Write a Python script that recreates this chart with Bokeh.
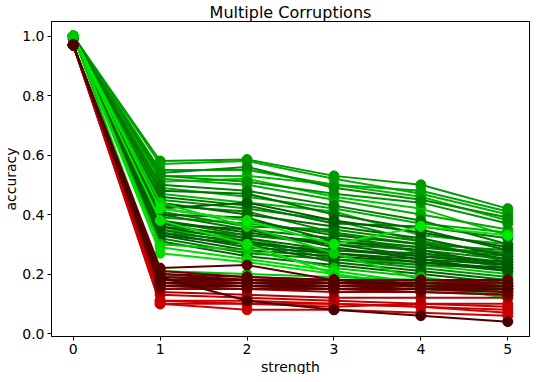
from bokeh.plotting import figure
from bokeh.models import Range1d, FixedTicker, NumeralTickFormatter, Title
from bokeh.embed import file_html
from bokeh.resources import INLINE

strength = [0, 1, 2, 3, 4, 5]

green_series = [
    [1.00, 0.58, 0.585, 0.53, 0.50, 0.42],
    [1.00, 0.57, 0.58, 0.52, 0.47, 0.40],
    [1.00, 0.55, 0.55, 0.50, 0.48, 0.41],
    [1.00, 0.54, 0.56, 0.49, 0.45, 0.39],
    [1.00, 0.53, 0.53, 0.50, 0.46, 0.38],
    [1.00, 0.53, 0.51, 0.47, 0.44, 0.37],
    [1.00, 0.52, 0.50, 0.45, 0.40, 0.35],
    [1.00, 0.51, 0.52, 0.46, 0.42, 0.33],
    [1.00, 0.50, 0.48, 0.43, 0.38, 0.30],
    [1.00, 0.49, 0.46, 0.42, 0.37, 0.34],
    [1.00, 0.48, 0.47, 0.40, 0.35, 0.28],
    [1.00, 0.47, 0.44, 0.41, 0.33, 0.30],
    [0.99, 0.46, 0.43, 0.37, 0.36, 0.32],
    [1.00, 0.45, 0.42, 0.38, 0.31, 0.27],
    [1.00, 0.44, 0.40, 0.36, 0.32, 0.26],
    [1.00, 0.43, 0.41, 0.34, 0.30, 0.28],
    [1.00, 0.42, 0.44, 0.38, 0.34, 0.29],
    [1.00, 0.42, 0.38, 0.33, 0.30, 0.25],
    [0.99, 0.41, 0.36, 0.35, 0.31, 0.24],
    [1.00, 0.40, 0.39, 0.31, 0.28, 0.23],
    [1.00, 0.40, 0.35, 0.32, 0.29, 0.26],
    [1.00, 0.39, 0.37, 0.34, 0.27, 0.22],
    [1.00, 0.38, 0.34, 0.30, 0.26, 0.24],
    [1.00, 0.38, 0.33, 0.31, 0.29, 0.27],
    [1.00, 0.37, 0.35, 0.29, 0.25, 0.21],
    [1.00, 0.37, 0.32, 0.28, 0.26, 0.23],
    [1.00, 0.36, 0.33, 0.30, 0.28, 0.25],
    [1.00, 0.36, 0.31, 0.27, 0.24, 0.22],
    [1.00, 0.35, 0.30, 0.28, 0.27, 0.24],
    [1.00, 0.35, 0.32, 0.26, 0.23, 0.20],
    [1.00, 0.34, 0.29, 0.27, 0.25, 0.23],
    [1.00, 0.34, 0.31, 0.25, 0.22, 0.19],
    [1.00, 0.33, 0.28, 0.26, 0.24, 0.21],
    [1.00, 0.33, 0.30, 0.24, 0.21, 0.18],
    [1.00, 0.32, 0.27, 0.25, 0.23, 0.22],
    [1.00, 0.31, 0.26, 0.23, 0.20, 0.17],
    [1.00, 0.30, 0.28, 0.22, 0.19, 0.15],
    [1.00, 0.29, 0.25, 0.21, 0.17, 0.14],
    [1.00, 0.27, 0.24, 0.20, 0.16, 0.12],
    [1.00, 0.38, 0.30, 0.20, 0.15, 0.13],
    [1.00, 0.44, 0.36, 0.27, 0.18, 0.16],
    [1.00, 0.42, 0.38, 0.30, 0.36, 0.33],
    [1.00, 0.21, 0.20, 0.19, 0.18, 0.16],
]

green_colors = [
    "#009a00", "#00b000", "#00a400", "#008c00", "#00b800", "#009000",
    "#00a800", "#00c400", "#007c00", "#00ac00", "#007000", "#00b400",
    "#007400", "#009400", "#006800", "#008400", "#005c00", "#006c00",
    "#008800", "#006400", "#007800", "#00a000", "#006000", "#007c00",
    "#005e00", "#006a00", "#008600", "#005a00", "#007000", "#00c800",
    "#006400", "#009000", "#005e00", "#006800", "#007e00", "#006200",
    "#00c000", "#00d800", "#00e000", "#00e400", "#00d000", "#00e800",
    "#00c800",
]

red_series = [
    [0.97, 0.22, 0.23, 0.18, 0.16, 0.15],
    [0.97, 0.21, 0.19, 0.18, 0.18, 0.17],
    [0.97, 0.20, 0.19, 0.18, 0.18, 0.18],
    [0.97, 0.20, 0.18, 0.17, 0.17, 0.17],
    [0.97, 0.19, 0.18, 0.17, 0.17, 0.16],
    [0.97, 0.19, 0.18, 0.18, 0.17, 0.16],
    [0.97, 0.18, 0.17, 0.17, 0.16, 0.16],
    [0.97, 0.18, 0.17, 0.16, 0.16, 0.15],
    [0.97, 0.18, 0.18, 0.17, 0.16, 0.16],
    [0.97, 0.17, 0.17, 0.16, 0.16, 0.15],
    [0.97, 0.17, 0.16, 0.16, 0.15, 0.15],
    [0.97, 0.17, 0.16, 0.15, 0.15, 0.14],
    [0.97, 0.16, 0.16, 0.15, 0.15, 0.14],
    [0.97, 0.16, 0.15, 0.15, 0.14, 0.13],
    [0.97, 0.19, 0.11, 0.08, 0.06, 0.04],
    [0.97, 0.15, 0.15, 0.14, 0.14, 0.13],
    [0.97, 0.14, 0.13, 0.12, 0.12, 0.12],
    [0.97, 0.13, 0.12, 0.11, 0.10, 0.09],
    [0.97, 0.11, 0.11, 0.10, 0.09, 0.08],
    [0.97, 0.11, 0.10, 0.10, 0.09, 0.07],
    [0.97, 0.10, 0.08, 0.08, 0.07, 0.06],
    [0.97, 0.10, 0.10, 0.09, 0.10, 0.10],
]

red_colors = [
    "#5a0000", "#700000", "#600000", "#7a0000", "#550000", "#800000",
    "#660000", "#5e0000", "#740000", "#6a0000", "#580000", "#880000",
    "#620000", "#780000", "#4a0000", "#900000", "#b00000", "#c40000",
    "#cc0000", "#d40000", "#d00000", "#c80000",
]

p = figure(width=530, height=374, output_backend="svg", toolbar_location=None,
           x_range=Range1d(-0.25, 5.25), y_range=Range1d(-0.01, 1.049),
           min_border_left=20, min_border_right=1, min_border_top=2,
           min_border_bottom=0)


def brightness(hex_color):
    return int(hex_color[1:3], 16) + int(hex_color[3:5], 16)


# darker green lines on top, but the bright "crossing" lines stay visible
g_main = sorted(range(36), key=lambda i: -brightness(green_colors[i]))
g_order = g_main + list(range(36, len(green_series)))
r_order = sorted(range(len(red_series)), key=lambda i: -brightness(red_colors[i]))

for i in g_order:
    ys, c = green_series[i], green_colors[i]
    p.line(strength, ys, line_color=c, line_width=2)
    p.scatter(strength, ys, size=10, fill_color=c, line_color=c)

for i in r_order:
    ys, c = red_series[i], red_colors[i]
    p.line(strength, ys, line_color=c, line_width=2)
    p.scatter(strength, ys, size=10, fill_color=c, line_color=c)

p.title.text = "Multiple Corruptions"
p.title.align = "center"
p.title.text_font = "DejaVu Sans"
p.title.text_font_size = "16px"
p.title.text_font_style = "normal"
p.title.text_color = "black"
p.title.standoff = 0

xlabel = Title(text="strength", align="center", text_font="DejaVu Sans",
               text_font_size="14px", text_font_style="normal",
               text_color="black", standoff=0)
p.add_layout(xlabel, "below")

p.xgrid.visible = False
p.ygrid.visible = False
p.outline_line_color = "black"
p.outline_line_width = 1
p.outline_line_alpha = 1

p.xaxis.ticker = FixedTicker(ticks=[0, 1, 2, 3, 4, 5])
p.yaxis.ticker = FixedTicker(ticks=[0.0, 0.2, 0.4, 0.6, 0.8, 1.0])
p.yaxis.formatter = NumeralTickFormatter(format="0.0")
p.yaxis.axis_label = "accuracy"

for ax in (p.xaxis, p.yaxis):
    ax.axis_line_color = "black"
    ax.major_tick_in = 0
    ax.major_tick_out = 4
    ax.minor_tick_line_color = None
    ax.major_tick_line_color = "black"
    ax.major_label_text_font = "DejaVu Sans"
    ax.major_label_text_font_size = "14px"
    ax.major_label_text_color = "black"
    ax.axis_label_text_font = "DejaVu Sans"
    ax.axis_label_text_font_size = "14px"
    ax.axis_label_text_font_style = "normal"
    ax.axis_label_text_color = "black"

p.xaxis.major_label_standoff = 3
p.yaxis.axis_label_standoff = 0
p.yaxis.major_label_standoff = 3

p.background_fill_color = "white"
p.border_fill_color = "white"

open("out.html", "w").write(file_html(p, INLINE))
